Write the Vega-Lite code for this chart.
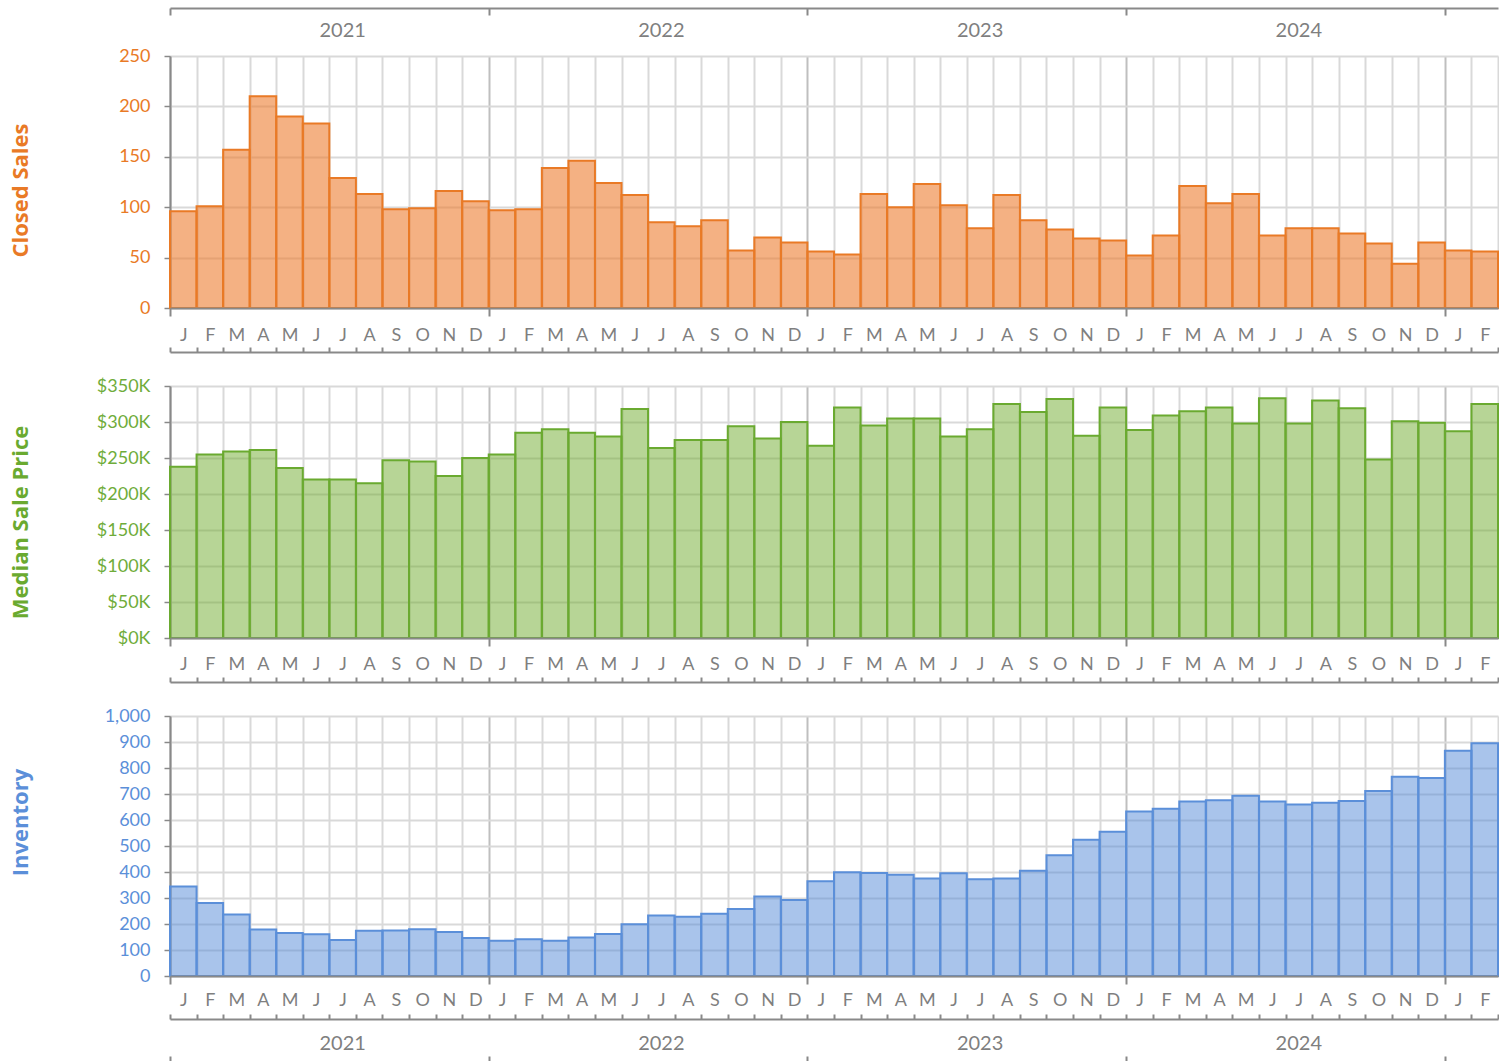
{
  "$schema": "https://vega.github.io/schema/vega-lite/v6.json",
  "background": "white",
  "padding": {"left": 9, "top": 7, "right": 0, "bottom": 0},
  "spacing": 78,
  "bounds": "flush",
  "config": {"view": {"stroke": null}, "axis": {"labelFont": "Lato", "titleFont": "Open Sans"}},
  "data": {"values": [
    {"date": "2021-01", "sales": 96, "price": 238000, "inv": 344},
    {"date": "2021-02", "sales": 101, "price": 255000, "inv": 281},
    {"date": "2021-03", "sales": 157, "price": 259000, "inv": 237},
    {"date": "2021-04", "sales": 210, "price": 261000, "inv": 179},
    {"date": "2021-05", "sales": 190, "price": 236000, "inv": 165},
    {"date": "2021-06", "sales": 183, "price": 220000, "inv": 161},
    {"date": "2021-07", "sales": 129, "price": 220000, "inv": 138},
    {"date": "2021-08", "sales": 113, "price": 215000, "inv": 174},
    {"date": "2021-09", "sales": 98, "price": 247000, "inv": 175},
    {"date": "2021-10", "sales": 99, "price": 245000, "inv": 180},
    {"date": "2021-11", "sales": 116, "price": 225000, "inv": 169},
    {"date": "2021-12", "sales": 106, "price": 250000, "inv": 146},
    {"date": "2022-01", "sales": 97, "price": 255000, "inv": 136},
    {"date": "2022-02", "sales": 98, "price": 285000, "inv": 141},
    {"date": "2022-03", "sales": 139, "price": 290000, "inv": 136},
    {"date": "2022-04", "sales": 146, "price": 285000, "inv": 148},
    {"date": "2022-05", "sales": 124, "price": 280000, "inv": 162},
    {"date": "2022-06", "sales": 112, "price": 318000, "inv": 199},
    {"date": "2022-07", "sales": 85, "price": 264000, "inv": 233},
    {"date": "2022-08", "sales": 81, "price": 275000, "inv": 228},
    {"date": "2022-09", "sales": 87, "price": 275000, "inv": 239},
    {"date": "2022-10", "sales": 57, "price": 294000, "inv": 258},
    {"date": "2022-11", "sales": 70, "price": 277000, "inv": 306},
    {"date": "2022-12", "sales": 65, "price": 300000, "inv": 292},
    {"date": "2023-01", "sales": 56, "price": 267000, "inv": 364},
    {"date": "2023-02", "sales": 53, "price": 320000, "inv": 399},
    {"date": "2023-03", "sales": 113, "price": 295000, "inv": 396},
    {"date": "2023-04", "sales": 100, "price": 305000, "inv": 389},
    {"date": "2023-05", "sales": 123, "price": 305000, "inv": 375},
    {"date": "2023-06", "sales": 102, "price": 280000, "inv": 395},
    {"date": "2023-07", "sales": 79, "price": 290000, "inv": 372},
    {"date": "2023-08", "sales": 112, "price": 325000, "inv": 375},
    {"date": "2023-09", "sales": 87, "price": 314000, "inv": 405},
    {"date": "2023-10", "sales": 78, "price": 332000, "inv": 464},
    {"date": "2023-11", "sales": 69, "price": 281000, "inv": 524},
    {"date": "2023-12", "sales": 67, "price": 320000, "inv": 555},
    {"date": "2024-01", "sales": 52, "price": 289000, "inv": 633},
    {"date": "2024-02", "sales": 72, "price": 309000, "inv": 643},
    {"date": "2024-03", "sales": 121, "price": 315000, "inv": 671},
    {"date": "2024-04", "sales": 104, "price": 320000, "inv": 676},
    {"date": "2024-05", "sales": 113, "price": 298000, "inv": 693},
    {"date": "2024-06", "sales": 72, "price": 333000, "inv": 671},
    {"date": "2024-07", "sales": 79, "price": 298000, "inv": 660},
    {"date": "2024-08", "sales": 79, "price": 330000, "inv": 666},
    {"date": "2024-09", "sales": 74, "price": 319000, "inv": 673},
    {"date": "2024-10", "sales": 64, "price": 248000, "inv": 712},
    {"date": "2024-11", "sales": 44, "price": 301000, "inv": 766},
    {"date": "2024-12", "sales": 65, "price": 299000, "inv": 762},
    {"date": "2025-01", "sales": 57, "price": 287000, "inv": 866},
    {"date": "2025-02", "sales": 56, "price": 325000, "inv": 895}
  ]},
  "vconcat": [
    {
      "width": 1328, "height": 252,
      "resolve": {"axis": {"x": "independent"}},
      "layer": [
        {"mark": {"type": "bar", "fill": "#ED7D31", "fillOpacity": 0.6, "stroke": "#E97A26", "strokeWidth": 2},
         "encoding": {
           "x": {"field": "date", "type": "ordinal", "scale": {"paddingInner": 0, "paddingOuter": 0},
             "axis": {"orient": "bottom", "title": null, "grid": false, "domain": true, "domainColor": "#898989", "domainWidth": 2,
               "ticks": true, "tickBand": "extent", "tickSize": 8, "tickWidth": 2, "tickColor": "#898989",
               "tickOpacity": {"condition": {"test": "!isString(datum.value) || slice(''+datum.value,5,7)=='12'", "value": 1}, "value": 0},
               "labelExpr": "slice('JFMAMJJASOND', toNumber(slice(''+datum.value,5,7))-1, toNumber(slice(''+datum.value,5,7)))",
               "labelAngle": 0, "labelFontSize": 18, "labelColor": "#7F7F7F", "labelPadding": 19, "labelBaseline": "middle", "labelOverlap": false, "zindex": 1}},
           "y": {"field": "sales", "type": "quantitative", "scale": {"domain": [0, 250]},
             "axis": {"values": [0, 50, 100, 150, 200, 250], "tickCount": 20, "format": "d", "labelOverlap": false, "title": "Closed Sales", "titleColor": "#E97A26", "titleFontWeight": "bold", "titleFontSize": 22,
               "titleX": -150, "titleY": 134, "titleAngle": -90, "titleBaseline": "middle", "titleAlign": "center",
               "labelColor": "#E97A26", "labelFontSize": 18, "labelPadding": 14, "tickSize": 6, "tickColor": "#898989", "tickWidth": 1.5,
               "domainColor": "#898989", "domainWidth": 2, "gridColor": "#D9D9D9", "gridWidth": 2}}
         }},
        {"mark": {"type": "bar", "opacity": 0},
         "encoding": {"x": {"field": "date", "type": "ordinal", "scale": {"paddingInner": 0, "paddingOuter": 0},
           "axis": {"orient": "bottom", "title": null, "labels": false, "ticks": false, "domain": false, "grid": true, "tickBand": "extent", "gridWidth": 2,
             "gridColor": {"condition": {"test": "!isString(datum.value) || slice(''+datum.value,5,7)=='12'", "value": "#BFBFBF"}, "value": "#D9D9D9"}, "zindex": 0}},
           "y": {"field": "sales", "type": "quantitative", "scale": {"domain": [0, 250]},
             "axis": {"values": [0, 50, 100, 150, 200, 250], "tickCount": 20, "format": "d", "labelOverlap": false, "title": "Closed Sales"}}}},
        {"mark": {"type": "bar", "opacity": 0},
         "encoding": {"x": {"field": "date", "type": "ordinal", "scale": {"paddingInner": 0, "paddingOuter": 0},
           "axis": {"orient": "bottom", "offset": 44, "title": null, "grid": false, "labels": false, "domain": true, "domainColor": "#898989", "domainWidth": 2,
             "ticks": true, "tickBand": "extent", "tickSize": -5, "tickWidth": 2, "tickColor": "#898989", "zindex": 1}},
           "y": {"field": "sales", "type": "quantitative", "scale": {"domain": [0, 250]},
             "axis": {"values": [0, 50, 100, 150, 200, 250], "tickCount": 20, "format": "d", "labelOverlap": false, "title": "Closed Sales"}}}},
        {"mark": {"type": "bar", "opacity": 0},
         "encoding": {"x": {"field": "date", "type": "ordinal", "scale": {"paddingInner": 0, "paddingOuter": 0},
           "axis": {"orient": "top", "offset": 48, "title": null, "grid": false, "labels": false, "domain": true, "domainColor": "#898989", "domainWidth": 2,
             "ticks": true, "tickBand": "extent", "tickSize": -7, "tickWidth": 2, "tickColor": "#898989",
             "tickOpacity": {"condition": {"test": "!isString(datum.value) || slice(''+datum.value,5,7)=='12'", "value": 1}, "value": 0}, "zindex": 1}},
           "y": {"field": "sales", "type": "quantitative", "scale": {"domain": [0, 250]},
             "axis": {"values": [0, 50, 100, 150, 200, 250], "tickCount": 20, "format": "d", "labelOverlap": false, "title": "Closed Sales"}}}},
        {"mark": {"type": "bar", "opacity": 0},
         "encoding": {"x": {"field": "date", "type": "ordinal", "scale": {"paddingInner": 0, "paddingOuter": 0},
           "axis": {"orient": "top", "offset": 26, "title": null, "grid": false, "domain": false, "ticks": false,
             "labelExpr": "slice(''+datum.value,5,7)=='07' ? slice(''+datum.value,0,4) : ''",
             "labelAngle": 0, "labelFontSize": 20, "labelColor": "#7F7F7F", "labelPadding": 0, "labelBaseline": "middle", "labelOverlap": false}},
           "y": {"field": "sales", "type": "quantitative", "scale": {"domain": [0, 250]},
             "axis": {"values": [0, 50, 100, 150, 200, 250], "tickCount": 20, "format": "d", "labelOverlap": false, "title": "Closed Sales"}}}}
      ]
    },
    {
      "width": 1328, "height": 252,
      "resolve": {"axis": {"x": "independent"}},
      "layer": [
        {"mark": {"type": "bar", "fill": "#6FAC2E", "fillOpacity": 0.5, "stroke": "#6AAA30", "strokeWidth": 2},
         "encoding": {
           "x": {"field": "date", "type": "ordinal", "scale": {"paddingInner": 0, "paddingOuter": 0},
             "axis": {"orient": "bottom", "title": null, "grid": false, "domain": true, "domainColor": "#898989", "domainWidth": 2,
               "ticks": true, "tickBand": "extent", "tickSize": 8, "tickWidth": 2, "tickColor": "#898989",
               "tickOpacity": {"condition": {"test": "!isString(datum.value) || slice(''+datum.value,5,7)=='12'", "value": 1}, "value": 0},
               "labelExpr": "slice('JFMAMJJASOND', toNumber(slice(''+datum.value,5,7))-1, toNumber(slice(''+datum.value,5,7)))",
               "labelAngle": 0, "labelFontSize": 18, "labelColor": "#7F7F7F", "labelPadding": 18, "labelBaseline": "middle", "labelOverlap": false, "zindex": 1}},
           "y": {"field": "price", "type": "quantitative", "scale": {"domain": [0, 350000]},
             "axis": {"values": [0, 50000, 100000, 150000, 200000, 250000, 300000, 350000], "tickCount": 20, "labelExpr": "'$' + round(datum.value/1000) + 'K'", "labelOverlap": false,
               "title": "Median Sale Price", "titleColor": "#6AAA30", "titleFontWeight": "bold", "titleFontSize": 22,
               "titleX": -150, "titleY": 136, "titleAngle": -90, "titleBaseline": "middle", "titleAlign": "center",
               "labelColor": "#6FAC3A", "labelFontSize": 18, "labelPadding": 14, "tickSize": 6, "tickColor": "#898989", "tickWidth": 1.5,
               "domainColor": "#898989", "domainWidth": 2, "gridColor": "#D9D9D9", "gridWidth": 2}}
         }},
        {"mark": {"type": "bar", "opacity": 0},
         "encoding": {"x": {"field": "date", "type": "ordinal", "scale": {"paddingInner": 0, "paddingOuter": 0},
           "axis": {"orient": "bottom", "title": null, "labels": false, "ticks": false, "domain": false, "grid": true, "tickBand": "extent", "gridWidth": 2,
             "gridColor": {"condition": {"test": "!isString(datum.value) || slice(''+datum.value,5,7)=='12'", "value": "#BFBFBF"}, "value": "#D9D9D9"}, "zindex": 0}},
           "y": {"field": "price", "type": "quantitative", "scale": {"domain": [0, 350000]},
             "axis": {"values": [0, 50000, 100000, 150000, 200000, 250000, 300000, 350000], "tickCount": 20, "labelExpr": "'$' + round(datum.value/1000) + 'K'", "labelOverlap": false, "title": "Median Sale Price"}}}},
        {"mark": {"type": "bar", "opacity": 0},
         "encoding": {"x": {"field": "date", "type": "ordinal", "scale": {"paddingInner": 0, "paddingOuter": 0},
           "axis": {"orient": "bottom", "offset": 44, "title": null, "grid": false, "labels": false, "domain": true, "domainColor": "#898989", "domainWidth": 2,
             "ticks": true, "tickBand": "extent", "tickSize": -5, "tickWidth": 2, "tickColor": "#898989", "zindex": 1}},
           "y": {"field": "price", "type": "quantitative", "scale": {"domain": [0, 350000]},
             "axis": {"values": [0, 50000, 100000, 150000, 200000, 250000, 300000, 350000], "tickCount": 20, "labelExpr": "'$' + round(datum.value/1000) + 'K'", "labelOverlap": false, "title": "Median Sale Price"}}}}
      ]
    },
    {
      "width": 1328, "height": 260,
      "resolve": {"axis": {"x": "independent"}},
      "layer": [
        {"mark": {"type": "bar", "fill": "#5389D7", "fillOpacity": 0.5, "stroke": "#5B8FD9", "strokeWidth": 2},
         "encoding": {
           "x": {"field": "date", "type": "ordinal", "scale": {"paddingInner": 0, "paddingOuter": 0},
             "axis": {"orient": "bottom", "title": null, "grid": false, "domain": true, "domainColor": "#898989", "domainWidth": 2,
               "ticks": true, "tickBand": "extent", "tickSize": 8, "tickWidth": 2, "tickColor": "#898989",
               "tickOpacity": {"condition": {"test": "!isString(datum.value) || slice(''+datum.value,5,7)=='12'", "value": 1}, "value": 0},
               "labelExpr": "slice('JFMAMJJASOND', toNumber(slice(''+datum.value,5,7))-1, toNumber(slice(''+datum.value,5,7)))",
               "labelAngle": 0, "labelFontSize": 18, "labelColor": "#7F7F7F", "labelPadding": 16, "labelBaseline": "middle", "labelOverlap": false, "zindex": 1}},
           "y": {"field": "inv", "type": "quantitative", "scale": {"domain": [0, 1000]},
             "axis": {"values": [0, 100, 200, 300, 400, 500, 600, 700, 800, 900, 1000], "tickCount": 20, "format": ",d", "labelOverlap": false,
               "title": "Inventory", "titleColor": "#5B8FD9", "titleFontWeight": "bold", "titleFontSize": 22,
               "titleX": -150, "titleY": 106, "titleAngle": -90, "titleBaseline": "middle", "titleAlign": "center",
               "labelColor": "#5B8FD9", "labelFontSize": 18, "labelPadding": 14, "tickSize": 6, "tickColor": "#898989", "tickWidth": 1.5,
               "domainColor": "#898989", "domainWidth": 2, "gridColor": "#D9D9D9", "gridWidth": 2}}
         }},
        {"mark": {"type": "bar", "opacity": 0},
         "encoding": {"x": {"field": "date", "type": "ordinal", "scale": {"paddingInner": 0, "paddingOuter": 0},
           "axis": {"orient": "bottom", "title": null, "labels": false, "ticks": false, "domain": false, "grid": true, "tickBand": "extent", "gridWidth": 2,
             "gridColor": {"condition": {"test": "!isString(datum.value) || slice(''+datum.value,5,7)=='12'", "value": "#BFBFBF"}, "value": "#D9D9D9"}, "zindex": 0}},
           "y": {"field": "inv", "type": "quantitative", "scale": {"domain": [0, 1000]},
             "axis": {"values": [0, 100, 200, 300, 400, 500, 600, 700, 800, 900, 1000], "tickCount": 20, "format": ",d", "labelOverlap": false, "title": "Inventory"}}}},
        {"mark": {"type": "bar", "opacity": 0},
         "encoding": {"x": {"field": "date", "type": "ordinal", "scale": {"paddingInner": 0, "paddingOuter": 0},
           "axis": {"orient": "bottom", "offset": 43, "title": null, "grid": false, "labels": false, "domain": true, "domainColor": "#898989", "domainWidth": 2,
             "ticks": true, "tickBand": "extent", "tickSize": -5, "tickWidth": 2, "tickColor": "#898989", "zindex": 1}},
           "y": {"field": "inv", "type": "quantitative", "scale": {"domain": [0, 1000]},
             "axis": {"values": [0, 100, 200, 300, 400, 500, 600, 700, 800, 900, 1000], "tickCount": 20, "format": ",d", "labelOverlap": false, "title": "Inventory"}}}},
        {"mark": {"type": "bar", "opacity": 0},
         "encoding": {"x": {"field": "date", "type": "ordinal", "scale": {"paddingInner": 0, "paddingOuter": 0},
           "axis": {"orient": "bottom", "offset": 67, "title": null, "grid": false, "domain": false, "ticks": false,
             "labelExpr": "slice(''+datum.value,5,7)=='07' ? slice(''+datum.value,0,4) : ''",
             "labelAngle": 0, "labelFontSize": 20, "labelColor": "#7F7F7F", "labelPadding": 0, "labelBaseline": "middle", "labelOverlap": false}},
           "y": {"field": "inv", "type": "quantitative", "scale": {"domain": [0, 1000]},
             "axis": {"values": [0, 100, 200, 300, 400, 500, 600, 700, 800, 900, 1000], "tickCount": 20, "format": ",d", "labelOverlap": false, "title": "Inventory"}}}},
        {"mark": {"type": "bar", "opacity": 0},
         "encoding": {"x": {"field": "date", "type": "ordinal", "scale": {"paddingInner": 0, "paddingOuter": 0},
           "axis": {"orient": "bottom", "offset": 80, "title": null, "grid": false, "labels": false, "domain": false,
             "ticks": true, "tickBand": "extent", "tickSize": 5, "tickWidth": 2, "tickColor": "#898989",
             "tickOpacity": {"condition": {"test": "!isString(datum.value) || slice(''+datum.value,5,7)=='12'", "value": 1}, "value": 0}}},
           "y": {"field": "inv", "type": "quantitative", "scale": {"domain": [0, 1000]},
             "axis": {"values": [0, 100, 200, 300, 400, 500, 600, 700, 800, 900, 1000], "tickCount": 20, "format": ",d", "labelOverlap": false, "title": "Inventory"}}}}
      ]
    }
  ]
}
